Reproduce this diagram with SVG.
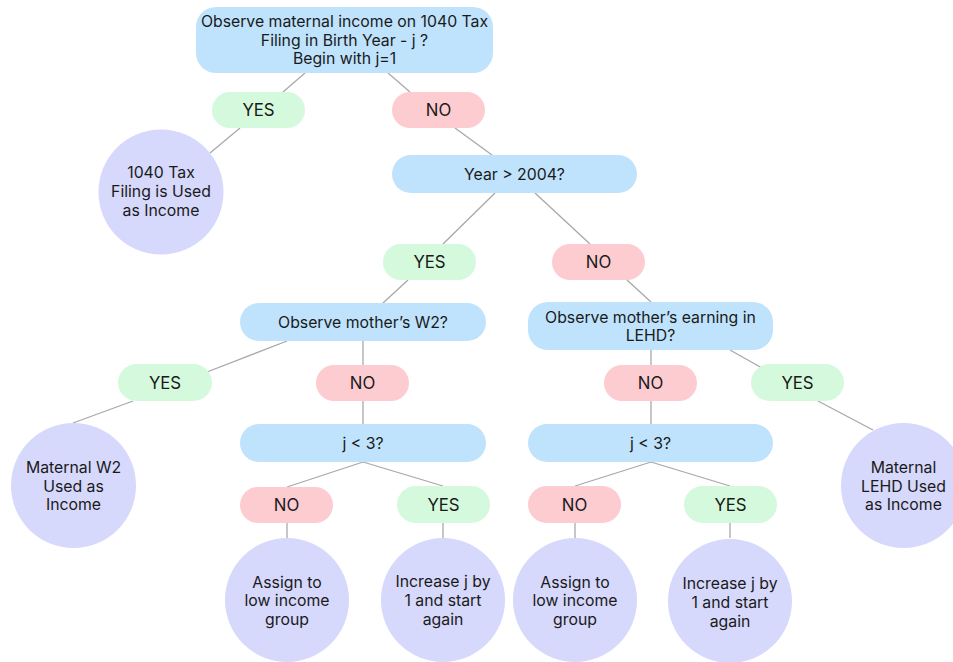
<svg xmlns="http://www.w3.org/2000/svg" width="953" height="662" viewBox="0 0 953 662">
<style>
text{font-family:Inter,"Liberation Sans",sans-serif;font-size:15.8px;fill:#1a1a1a;text-anchor:middle;dominant-baseline:central}
.q{fill:#bfe3fd}
.y{fill:#d5f9dc}
.n{fill:#fdccd1}
.c{fill:#d6d8fc}
.yn text{font-size:16.8px}
#edges line{stroke:#a8a8a8;stroke-width:1.3}
</style>
<rect width="953" height="662" fill="#ffffff"/>
<g id="edges">
<line x1="305" y1="73" x2="283" y2="92"/>
<line x1="388" y1="73" x2="410" y2="92"/>
<line x1="240" y1="128" x2="210" y2="153"/>
<line x1="455" y1="128" x2="492" y2="155"/>
<line x1="495" y1="193" x2="443" y2="244"/>
<line x1="535" y1="193" x2="590" y2="244"/>
<line x1="408" y1="280" x2="383" y2="303"/>
<line x1="627" y1="280" x2="651" y2="302"/>
<line x1="287" y1="341" x2="207" y2="372"/>
<line x1="133" y1="401" x2="73" y2="423"/>
<line x1="363" y1="341" x2="363" y2="365"/>
<line x1="363" y1="401" x2="363" y2="424"/>
<line x1="363" y1="462" x2="287" y2="487"/>
<line x1="363" y1="462" x2="443" y2="486"/>
<line x1="287" y1="523" x2="287" y2="538"/>
<line x1="443" y1="523" x2="443" y2="538"/>
<line x1="651" y1="350" x2="651" y2="365"/>
<line x1="730" y1="350" x2="762" y2="368"/>
<line x1="818" y1="401" x2="873" y2="430"/>
<line x1="651" y1="401" x2="651" y2="424"/>
<line x1="651" y1="462" x2="575" y2="486"/>
<line x1="651" y1="462" x2="730" y2="486"/>
<line x1="575" y1="523" x2="575" y2="538"/>
<line x1="730" y1="523" x2="730" y2="538"/>
</g>
<g id="start"><rect class="q" x="196" y="7" width="297" height="66" rx="20"/>
<text x="344.5" y="21">Observe maternal income on 1040 Tax</text>
<text x="344.5" y="40">Filing in Birth Year - j ?</text>
<text x="344.5" y="58">Begin with j=1</text></g>
<g id="yes1" class="yn"><rect class="y" x="212" y="92" width="93" height="36" rx="18"/><text x="258.5" y="110">YES</text></g>
<g id="no1" class="yn"><rect class="n" x="392" y="92" width="93" height="36" rx="18"/><text x="438.5" y="110">NO</text></g>
<g id="res1040"><circle class="c" cx="161" cy="192" r="62.5"/>
<text x="161" y="172">1040 Tax</text><text x="161" y="191">Filing is Used</text><text x="161" y="210">as Income</text></g>
<g id="year"><rect class="q" x="392" y="155" width="245" height="38" rx="19"/><text x="514.5" y="174">Year &gt; 2004?</text></g>
<g id="yes2" class="yn"><rect class="y" x="383" y="244" width="93" height="36" rx="18"/><text x="429.5" y="262">YES</text></g>
<g id="no2" class="yn"><rect class="n" x="552" y="244" width="93" height="36" rx="18"/><text x="598.5" y="262">NO</text></g>
<g id="w2"><rect class="q" x="240" y="303" width="246" height="38" rx="19"/><text x="363" y="322">Observe mother’s W2?</text></g>
<g id="lehd"><rect class="q" x="528" y="302" width="245" height="48" rx="20"/>
<text x="650.5" y="317">Observe mother’s earning in</text><text x="650.5" y="335">LEHD?</text></g>
<g id="yes3" class="yn"><rect class="y" x="118" y="364" width="94" height="37" rx="18.5"/><text x="165" y="382.5">YES</text></g>
<g id="no3" class="yn"><rect class="n" x="316" y="365" width="93" height="36" rx="18"/><text x="362.5" y="383">NO</text></g>
<g id="no4" class="yn"><rect class="n" x="604" y="365" width="93" height="36" rx="18"/><text x="650.5" y="383">NO</text></g>
<g id="yes4" class="yn"><rect class="y" x="751" y="364" width="93" height="37" rx="18.5"/><text x="797.5" y="382.5">YES</text></g>
<g id="resW2"><circle class="c" cx="73.5" cy="485.5" r="62.5"/>
<text x="73.5" y="467">Maternal W2</text><text x="73.5" y="486">Used as</text><text x="73.5" y="504">Income</text></g>
<g id="resLEHD"><circle class="c" cx="903.5" cy="485.5" r="62.5"/>
<text x="903.5" y="467">Maternal</text><text x="903.5" y="486">LEHD Used</text><text x="903.5" y="504">as Income</text></g>
<g id="j1"><rect class="q" x="240" y="424" width="246" height="38" rx="19"/><text x="363" y="443">j &lt; 3?</text></g>
<g id="j2"><rect class="q" x="528" y="424" width="245" height="38" rx="19"/><text x="650.5" y="443">j &lt; 3?</text></g>
<g id="no5" class="yn"><rect class="n" x="240" y="487" width="93" height="36" rx="18"/><text x="286.5" y="505">NO</text></g>
<g id="yes5" class="yn"><rect class="y" x="397" y="486" width="93" height="37" rx="18.5"/><text x="443.5" y="504.5">YES</text></g>
<g id="no6" class="yn"><rect class="n" x="528" y="486" width="93" height="37" rx="18.5"/><text x="574.5" y="504.5">NO</text></g>
<g id="yes6" class="yn"><rect class="y" x="684" y="486" width="93" height="37" rx="18.5"/><text x="730.5" y="504.5">YES</text></g>
<g id="low1"><circle class="c" cx="287" cy="600" r="62"/>
<text x="287" y="582">Assign to</text><text x="287" y="600">low income</text><text x="287" y="619">group</text></g>
<g id="inc1"><circle class="c" cx="443" cy="600" r="62"/>
<text x="443" y="581">Increase j by</text><text x="443" y="600">1 and start</text><text x="443" y="619">again</text></g>
<g id="low2"><circle class="c" cx="575" cy="600" r="62"/>
<text x="575" y="582">Assign to</text><text x="575" y="600">low income</text><text x="575" y="619">group</text></g>
<g id="inc2"><circle class="c" cx="730" cy="601" r="62"/>
<text x="730" y="583">Increase j by</text><text x="730" y="602">1 and start</text><text x="730" y="621">again</text></g>
</svg>
